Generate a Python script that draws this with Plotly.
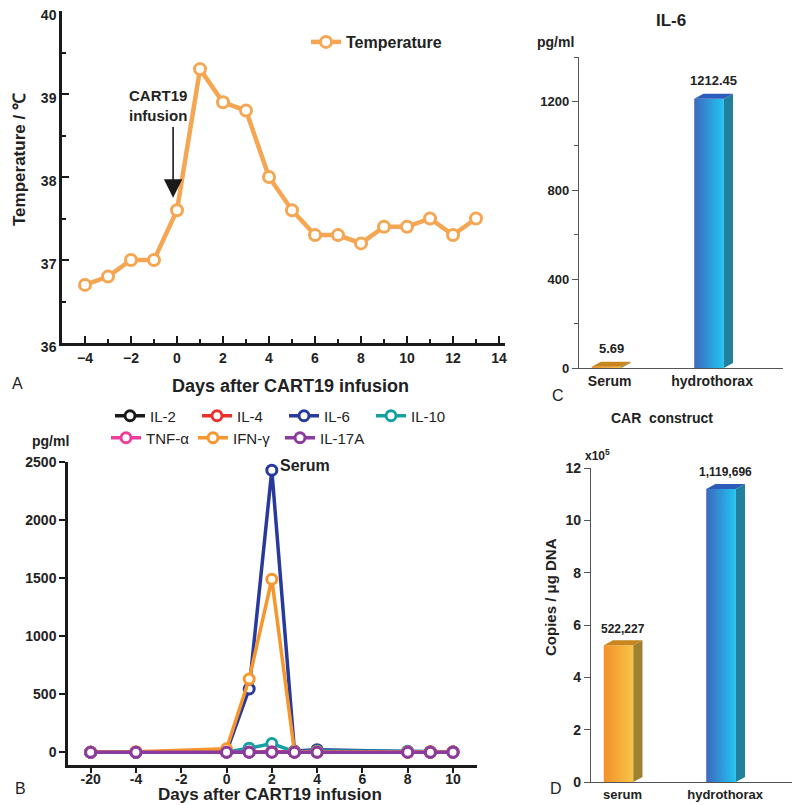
import plotly.graph_objects as go

# ---------------- data ----------------
# Panel A: temperature
temp_days = [-4, -3, -2, -1, 0, 1, 2, 3, 4, 5, 6, 7, 8, 9, 10, 11, 12, 13]
temp_vals = [36.7, 36.8, 37.0, 37.0, 37.6, 39.3, 38.9, 38.8, 38.0, 37.6, 37.3, 37.3, 37.2, 37.4, 37.4, 37.5, 37.3, 37.5]

# Panel B: serum cytokines (pg/ml)
cyt_days = [-20, -4, 0, 1, 2, 3, 4, 8, 9, 10]
il2 = [0, 0, 2, 3, 4, 2, 3, 2, 1, 1]
il4 = [0, 0, 1, 2, 2, 1, 2, 1, 1, 1]
il6 = [0, 0, 5, 545, 2430, 10, 22, 6, 3, 3]
il10 = [0, 0, 3, 35, 75, 5, 10, 8, 3, 3]
tnfa = [0, 0, 2, 3, 4, 2, 3, 2, 2, 2]
ifng = [2, 5, 30, 630, 1490, 5, 5, 3, 2, 2]
il17a = [0, 0, 0, 0, 0, 0, 0, 0, 0, 0]
cyt_tickdays = [-20, -4, -2, 0, 2, 4, 6, 8, 10]

# Panel C: IL-6 (pg/ml)
il6_cats = ["Serum", "hydrothorax"]
il6_vals = [5.69, 1212.45]

# Panel D: CAR construct (copies / ug DNA)
car_cats = ["serum", "hydrothorax"]
car_vals = [522227, 1119696]

FONT = "Liberation Sans, Arial, sans-serif"
BLACK = "#1a1a1a"

fig = go.Figure()

# ---------------- Panel A ----------------
TEMP_C = "#f5a653"
fig.add_trace(go.Scatter(
    x=temp_days, y=temp_vals, mode="lines+markers", name="<b>Temperature</b>",
    line=dict(color=TEMP_C, width=4.5),
    marker=dict(symbol="circle", size=11, color="white", line=dict(color=TEMP_C, width=3)),
    xaxis="x", yaxis="y", legend="legend"))

# ---------------- Panel B ----------------
BREAK = {-20: -6}
def pos(d):
    return BREAK.get(d, d)
cyt_x = [pos(d) for d in cyt_days]
series = [("IL-2", il2, "#1a1a1a", "legend2"), ("IL-4", il4, "#e8322b", "legend2"),
          ("IL-6", il6, "#283b9c", "legend2"), ("IL-10", il10, "#17a0a0", "legend2"),
          ("TNF-α", tnfa, "#ea3f9c", "legend3"), ("IFN-γ", ifng, "#f7962c", "legend3"),
          ("IL-17A", il17a, "#8b3a9e", "legend3")]
for name, vals, col, lg in series:
    fig.add_trace(go.Scatter(
        x=cyt_x, y=vals, mode="lines+markers", name=name,
        line=dict(color=col, width=3.5),
        marker=dict(symbol="circle", size=10, color="white", line=dict(color=col, width=3)),
        xaxis="x2", yaxis="y2", legend=lg))

# ---------------- 3D-looking bars ----------------
def bar3d(xa, ya, cats_pos, vals, styles, yspan):
    w, d = 0.58, 0.18
    dy = yspan * 0.016
    for c, v, st in zip(cats_pos, vals, styles):
        x0, x1 = c - w / 2, c + w / 2
        fig.add_trace(go.Scatter(
            x=[x0, x1, x1, x0, x0], y=[0, 0, v, v, 0], mode="lines", fill="toself",
            line=dict(width=0), fillgradient=dict(type="horizontal", colorscale=[[0, st[0]], [1, st[1]]]),
            hoverinfo="skip", showlegend=False, xaxis=xa, yaxis=ya))
        fig.add_trace(go.Scatter(
            x=[x1, x1 + d, x1 + d, x1, x1], y=[0, dy, v + dy, v, 0], mode="lines", fill="toself",
            line=dict(width=0), fillcolor=st[2], hoverinfo="skip", showlegend=False, xaxis=xa, yaxis=ya))
        fig.add_trace(go.Scatter(
            x=[x0, x1, x1 + d, x0 + d, x0], y=[v, v, v + dy, v + dy, v], mode="lines", fill="toself",
            line=dict(width=0), fillcolor=st[3], hoverinfo="skip", showlegend=False, xaxis=xa, yaxis=ya))

BLUE_ST = ("#3c68bd", "#22c6f3", "#21809c", "#2c5cb9")
ORANGE_ST = ("#f48f2a", "#f6c646", "#9e8232", "#c8861f")
bar_pos = [0.54, 2.55]

C_MAX = 1400
bar3d("x3", "y3", bar_pos, il6_vals, [ORANGE_ST, BLUE_ST], C_MAX)
D_SCALE = 1e5
car_scaled = [v / D_SCALE for v in car_vals]
D_MAX = 12
bar3d("x4", "y4", bar_pos, car_scaled, [ORANGE_ST, BLUE_ST], D_MAX)

# ---------------- layout ----------------
# the page body adds an 8px offset, so the figure is laid out in page pixels minus 8
OFF = 8
W, H = 800 - OFF, 805 - OFF
def px_x(p):
    return (p - OFF) / W
def px_y(p):
    return 1 - (p - OFF) / H

ann = []
def A(text, x, y, size=14, bold=True, xanchor="center", yanchor="middle", textangle=0, ref=("paper", "paper")):
    ann.append(dict(text=f"<b>{text}</b>" if bold else text, x=x, y=y, xref=ref[0], yref=ref[1],
                    showarrow=False, xanchor=xanchor, yanchor=yanchor, textangle=textangle,
                    font=dict(family=FONT, size=size, color="#222")))

# value labels on bars (data driven)
for c, v in zip(bar_pos, il6_vals):
    A(f"{v:.2f}", c + 0.09, v + C_MAX * 0.016 + 15, size=13, yanchor="bottom", ref=("x3", "y3"))
for c, v, s in zip(bar_pos, car_vals, car_scaled):
    A(f"{v:,}", c + 0.09, s + D_MAX * 0.016 + 0.1, size=12, yanchor="bottom", ref=("x4", "y4"))

# panel A texts
A("Days after CART19 infusion", px_x(290), px_y(386), size=18)
A("Temperature / ℃", px_x(20), px_y(160), size=17, textangle=-90)
A("CART19<br>infusion", px_x(158), px_y(105), size=15)
A("A", px_x(10), px_y(383), size=16, bold=False, xanchor="left")
ann.append(dict(x=-0.17, y=37.75, ax=-0.17, ay=38.62, xref="x", yref="y", axref="x", ayref="y",
                showarrow=True, arrowhead=2, arrowsize=2.3, arrowwidth=1.6, arrowcolor=BLACK, text=""))
# panel B texts
A("Days after CART19 infusion", px_x(270), px_y(794), size=17)
A("pg/ml", px_x(50), px_y(441), size=14)
A("Serum", px_x(305), px_y(466), size=16)
A("B", px_x(13), px_y(788), size=16, bold=False, xanchor="left")
# panel C texts
A("IL-6", px_x(671), px_y(9), size=17, yanchor="top")
A("pg/ml", px_x(555), px_y(42), size=14)
A("C", px_x(550), px_y(395), size=16, bold=False, xanchor="left")
# panel D texts
A("CAR  construct", px_x(662), px_y(418), size=14)
A("Copies / μg DNA", px_x(550), px_y(597), size=15, textangle=-90)
A("x10<sup>5</sup>", px_x(597), px_y(455), size=12)
A("D", px_x(548), px_y(788), size=16, bold=False, xanchor="left")

bold_tick = dict(family=FONT, size=14, color="#222")
common = dict(showgrid=False, zeroline=False, automargin=False, ticklabeloverflow="allow")
GRAY = "#555"

fig.update_layout(
    width=W, height=H, margin=dict(l=0, r=0, t=0, b=0, autoexpand=False),
    paper_bgcolor="white", plot_bgcolor="white",
    font=dict(family=FONT, color="#222"),
    annotations=ann,
    xaxis=dict(domain=[px_x(62), px_x(505)], range=[-5, 14.26], anchor="y",
               showline=True, linecolor=BLACK, linewidth=2.5, **common,
               tickmode="linear", tick0=0, dtick=2, ticks="inside", ticklen=7, tickwidth=2, tickcolor=BLACK,
               minor=dict(tick0=0, dtick=1, ticks="inside", ticklen=4, tickwidth=2, tickcolor=BLACK),
               tickfont=bold_tick, tickprefix="<b>", ticksuffix="</b>"),
    yaxis=dict(domain=[px_y(343), px_y(11)], range=[36, 40], anchor="x",
               showline=True, linecolor=BLACK, linewidth=2.5, **common,
               tickmode="linear", tick0=36, dtick=1, ticks="inside", ticklen=7, tickwidth=2, tickcolor=BLACK,
               minor=dict(tick0=36, dtick=0.5, ticks="inside", ticklen=4, tickwidth=2, tickcolor=BLACK),
               tickfont=bold_tick, tickprefix="<b>", ticksuffix="</b>", ticklabelshift=4),
    xaxis2=dict(domain=[px_x(68), px_x(477)], range=[-7, 11.06], anchor="y2",
                showline=True, linecolor=BLACK, linewidth=2.5, **common,
                tickmode="array", tickvals=[pos(d) for d in cyt_tickdays],
                ticktext=[f"<b>{d}</b>" for d in cyt_tickdays],
                ticks="outside", ticklen=5, tickwidth=2, tickcolor=BLACK, tickfont=bold_tick,
                ticklabelstandoff=-6),
    yaxis2=dict(domain=[px_y(765), px_y(462)], range=[-110, 2500], anchor="x2",
                showline=True, linecolor=BLACK, linewidth=2.5, **common,
                tickmode="linear", tick0=0, dtick=500, ticks="outside", ticklen=6, tickwidth=2, tickcolor=BLACK,
                tickfont=bold_tick, tickprefix="<b>", ticksuffix="</b>"),
    xaxis3=dict(domain=[px_x(579), px_x(783)], range=[0, 4], anchor="y3",
                showline=True, linecolor=GRAY, linewidth=1.3, **common,
                tickmode="array", tickvals=[p + 0.06 for p in bar_pos],
                ticktext=[f"<b>{c}</b>" for c in il6_cats], ticks="",
                tickfont=dict(family=FONT, size=14, color="#222")),
    xaxis5=dict(domain=[px_x(579), px_x(783)], range=[0, 4], anchor="y3", overlaying="x3",
                showline=False, **common, showticklabels=False,
                tickmode="linear", tick0=0, dtick=1, ticks="outside", ticklen=6, tickwidth=1.3, tickcolor=GRAY),
    yaxis3=dict(domain=[px_y(368), px_y(57)], range=[0, C_MAX], anchor="x3",
                showline=True, linecolor=GRAY, linewidth=1.3, **common,
                tickmode="linear", tick0=0, dtick=400, ticks="outside", ticklen=6, tickwidth=1.3, tickcolor=GRAY,
                minor=dict(tick0=0, dtick=200, ticks="outside", ticklen=4, tickwidth=1.3, tickcolor=GRAY),
                tickfont=dict(family=FONT, size=13, color="#222"), tickprefix="<b>", ticksuffix="</b>"),
    xaxis4=dict(domain=[px_x(591), px_x(795)], range=[0, 4], anchor="y4",
                showline=True, linecolor=GRAY, linewidth=1.3, **common,
                tickmode="array", tickvals=[p + 0.08 for p in bar_pos],
                ticktext=[f"<b>{c}</b>" for c in car_cats], ticks="",
                tickfont=dict(family=FONT, size=13, color="#222")),
    xaxis6=dict(domain=[px_x(591), px_x(795)], range=[0, 4], anchor="y4", overlaying="x4",
                showline=False, **common, showticklabels=False,
                tickmode="linear", tick0=0, dtick=1, ticks="outside", ticklen=6, tickwidth=1.3, tickcolor=GRAY),
    yaxis4=dict(domain=[px_y(782), px_y(468)], range=[0, D_MAX], anchor="x4",
                showline=True, linecolor=GRAY, linewidth=1.3, **common,
                tickmode="linear", tick0=0, dtick=2, ticks="outside", ticklen=6, tickwidth=1.3, tickcolor=GRAY,
                tickfont=dict(family=FONT, size=14, color="#222"), tickprefix="<b>", ticksuffix="</b>"),
    legend=dict(x=px_x(306), y=px_y(42), xanchor="left", yanchor="middle", bgcolor="rgba(0,0,0,0)",
                font=dict(family=FONT, size=16, color="#222")),
    legend2=dict(x=px_x(110), y=px_y(416), xanchor="left", yanchor="middle", orientation="h",
                 entrywidth=42, entrywidthmode="pixels", bgcolor="rgba(0,0,0,0)",
                 font=dict(family=FONT, size=15, color="#222")),
    legend3=dict(x=px_x(106), y=px_y(438), xanchor="left", yanchor="middle", orientation="h",
                 entrywidth=42, entrywidthmode="pixels", bgcolor="rgba(0,0,0,0)",
                 font=dict(family=FONT, size=15, color="#222")),
)

fig.write_html("out.html")
